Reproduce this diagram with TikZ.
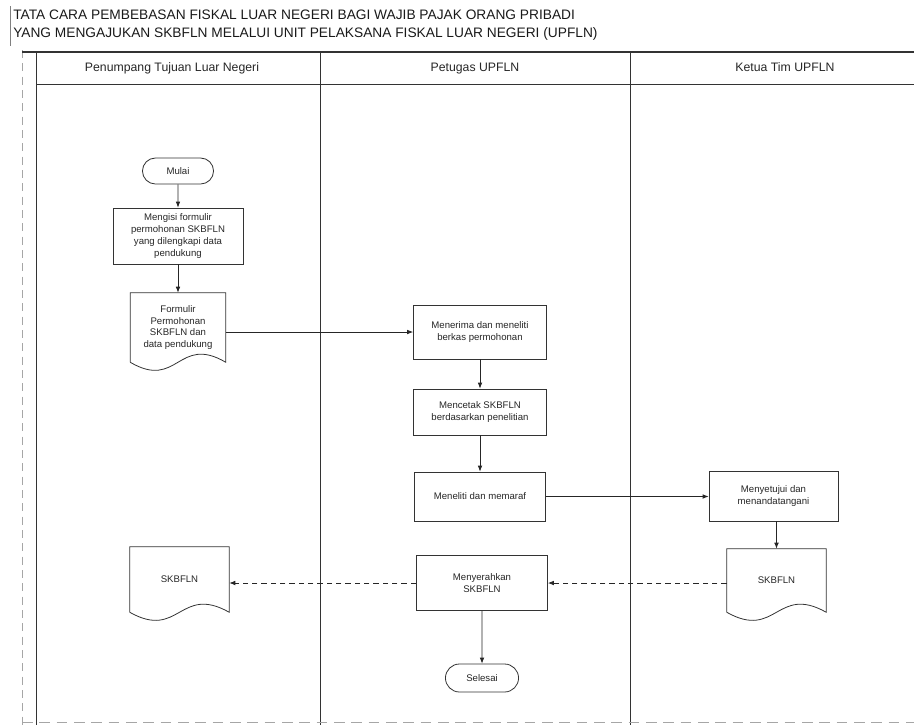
\documentclass[tikz,border=0pt]{standalone}
\usepackage{fontspec}
\setmainfont{Liberation Sans}
\usetikzlibrary{shapes.misc,arrows.meta,calc}
\newdimen\pxu \pxu=0.75pt
\begin{document}
\begin{tikzpicture}[x=0.75pt,y=-0.75pt,
  lane/.style={draw=black!80, line width=0.7pt},
  txt/.style={font=\fontsize{7.2}{8.8}\selectfont, text=black!85, align=center},
  proc/.style={txt, draw=black!80, line width=0.6pt, rectangle, inner sep=1pt},
  term/.style={txt, draw=black!80, line width=0.6pt, rounded rectangle},
  docbox/.style={txt, rectangle, inner sep=1pt},
  docline/.style={draw=black!80, line width=0.6pt},
  arr/.style={-{Latex[length=4.5pt,width=3.5pt]}, draw=black!85, line width=0.6pt},
  darr/.style={arr, dash pattern=on 4pt off 3pt},
  head/.style={font=\fontsize{9.2}{11}\selectfont, text=black!85, anchor=base},
  ttl/.style={font=\fontsize{10.3}{12}\selectfont, text=black!90, anchor=west, inner sep=0pt}]
\newcommand\docshape[1]{%
  \draw[docline] (#1.south west) -- (#1.north west) -- (#1.north east) -- (#1.south east)
    .. controls ($(#1.south)+(0,-28)$) and ($(#1.south)+(0,28)$) .. (#1.south west);}
\useasboundingbox (0,0) rectangle (914,725);

% title
\node[ttl] (t1) at (13,15) {TATA CARA PEMBEBASAN FISKAL LUAR NEGERI BAGI WAJIB PAJAK ORANG PRIBADI};
\node[ttl] (t2) at (13,34) {YANG MENGAJUKAN SKBFLN MELALUI UNIT PELAKSANA FISKAL LUAR NEGERI (UPFLN)};
\draw[black!50, line width=0.5pt] (10,6) -- (10,46);
\draw[black!35, line width=0.5pt, dash pattern=on 6pt off 4pt] (22,50) -- (22,725);

% swimlane table
\draw[lane, line width=1pt] (22,52) -- (914,52);
\draw[lane] (36,84) -- (914,84);
\draw[lane] (36,52) -- (36,725);
\draw[lane] (320,52) -- (320,725);
\draw[lane] (630,52) -- (630,725);
\draw[black!35, line width=0.5pt, dash pattern=on 8pt off 5pt] (22,722) -- (914,722);

\node[head] (h1) at (172,71) {Penumpang Tujuan Luar Negeri};
\node[head] (h2) at (475,71) {Petugas UPFLN};
\node[head] (h3) at (785,71) {Ketua Tim UPFLN};

% nodes
\node[term, minimum width=80\pxu, minimum height=26\pxu] (mulai) at (178,171) {Mulai};
\node[proc, minimum width=130\pxu, minimum height=56\pxu] (mengisi) at (178,236)
  {Mengisi formulir\\permohonan SKBFLN\\yang dilengkapi data\\pendukung};
\node[docbox, minimum width=95\pxu, minimum height=69\pxu] (form) at (178,327.5)
  {Formulir\\Permohonan\\SKBFLN dan\\data pendukung};
\docshape{form}
\node[proc, minimum width=133\pxu, minimum height=54\pxu] (terima) at (480,332)
  {Menerima dan meneliti\\berkas permohonan};
\node[proc, minimum width=133\pxu, minimum height=46\pxu] (cetak) at (480,412)
  {Mencetak SKBFLN\\berdasarkan penelitian};
\node[proc, minimum width=131\pxu, minimum height=49\pxu] (teliti) at (480,496.5)
  {Meneliti dan memaraf};
\node[proc, minimum width=129\pxu, minimum height=50\pxu] (setuju) at (773.5,496)
  {Menyetujui dan\\menandatangani};
\node[docbox, minimum width=99\pxu, minimum height=63\pxu] (skbR) at (776.5,580.5) {SKBFLN};
\docshape{skbR}
\node[proc, minimum width=131\pxu, minimum height=55\pxu] (serah) at (482,583)
  {Menyerahkan\\SKBFLN};
\node[docbox, minimum width=99\pxu, minimum height=65\pxu] (skbL) at (179.5,579.5) {SKBFLN};
\docshape{skbL}
\node[term, minimum width=82\pxu, minimum height=28\pxu] (selesai) at (482,678) {Selesai};

% connectors
\draw[arr] (mulai) -- (mengisi);
\draw[arr] (mengisi) -- (form);
\draw[arr] (terima.west -| form.east) -- (terima.west);
\draw[arr] (terima) -- (cetak);
\draw[arr] (cetak) -- (teliti);
\draw[arr] (teliti.east) -- (teliti.east -| setuju.west);
\draw[arr] (setuju.south -| skbR.north) -- (skbR.north);
\draw[darr] (serah.east -| skbR.west) -- (serah.east);
\draw[darr] (serah.west) -- (serah.west -| skbL.east);
\draw[arr] (serah) -- (selesai);
\end{tikzpicture}
\end{document}
